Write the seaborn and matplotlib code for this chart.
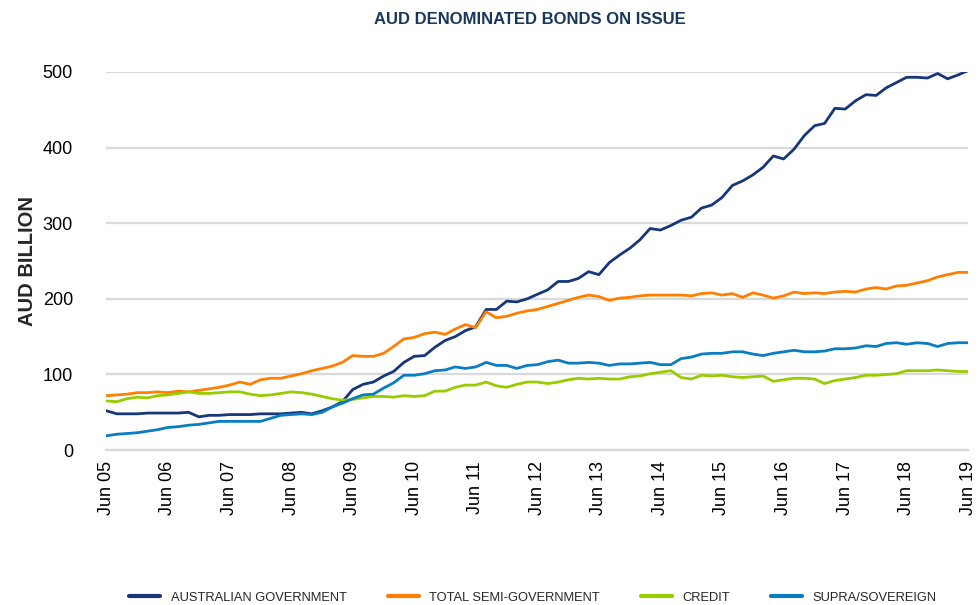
import numpy as np
import pandas as pd
import seaborn as sns
import matplotlib.pyplot as plt
import matplotlib.dates as mdates

# bi-monthly observations, Jun 2005 .. Jun 2019 (AUD billion)
dates = pd.date_range("2005-06-30", periods=85, freq="2ME")

australian_gov = [
    52, 48, 48, 48, 49, 49, 49, 49, 50, 44, 46, 46, 47, 47, 47, 48, 48, 48,
    49, 50, 48, 52, 57, 64, 80, 87, 90, 98, 104, 116, 124, 125, 136, 145, 150, 158,
    163, 186, 186, 197, 196, 200, 206, 212, 223, 223, 227, 236, 232, 248, 258, 267,
    278, 293, 291, 297, 304, 308, 320, 324, 334, 350, 356, 364, 374, 389, 385, 398,
    416, 429, 432, 452, 451, 462, 470, 469, 479, 486, 493, 493, 492, 498, 491, 496,
    502,
]
semi_gov = [
    72, 73, 74, 76, 76, 77, 76, 78, 77, 79, 81, 83, 86, 90, 87, 93, 95, 95,
    98, 101, 105, 108, 111, 116, 125, 124, 124, 128, 137, 147, 149, 154, 156, 153, 160, 166,
    162, 183, 175, 177, 181, 184, 186, 190, 194, 198, 202, 205, 203, 198, 201, 202,
    204, 205, 205, 205, 205, 204, 207, 208, 205, 207, 202, 208, 205, 201, 204, 209,
    207, 208, 207, 209, 210, 209, 213, 215, 213, 217, 218, 221, 224, 229, 232, 235,
    235,
]
credit = [
    65, 64, 68, 70, 69, 72, 73, 75, 77, 75, 75, 76, 77, 77, 74, 72, 73, 75,
    77, 76, 74, 71, 68, 66, 67, 69, 71, 71, 70, 72, 71, 72, 78, 78, 83, 86,
    86, 90, 85, 83, 87, 90, 90, 88, 90, 93, 95, 94, 95, 94, 94, 97,
    98, 101, 103, 105, 96, 94, 99, 98, 99, 97, 96, 97, 98, 91, 93, 95,
    95, 94, 88, 92, 94, 96, 99, 99, 100, 101, 105, 105, 105, 106, 105, 104,
    104,
]
supra = [
    19, 21, 22, 23, 25, 27, 30, 31, 33, 34, 36, 38, 38, 38, 38, 38, 42, 46,
    47, 48, 47, 50, 57, 62, 68, 73, 74, 82, 89, 99, 99, 101, 105, 106, 110, 108,
    110, 116, 112, 112, 108, 112, 113, 117, 119, 115, 115, 116, 115, 112, 114, 114,
    115, 116, 113, 113, 121, 123, 127, 128, 128, 130, 130, 127, 125, 128, 130, 132,
    130, 130, 131, 134, 134, 135, 138, 137, 141, 142, 140, 142, 141, 137, 141, 142,
    142,
]

series_names = ["AUSTRALIAN GOVERNMENT", "TOTAL SEMI-GOVERNMENT", "CREDIT", "SUPRA/SOVEREIGN"]
colors = ["#17377A", "#FF8000", "#99CC00", "#0A7DC2"]

df = pd.concat([
    pd.DataFrame({"date": dates, "value": vals, "series": name})
    for name, vals in zip(series_names, [australian_gov, semi_gov, credit, supra])
])

sns.set_style("white")
plt.rcParams["font.family"] = ["Liberation Sans", "DejaVu Sans"]

fig = plt.figure(figsize=(9.76, 6.05), dpi=100)
ax = fig.add_axes([0.109, 0.256, 0.883, 0.625])

sns.lineplot(data=df, x="date", y="value", hue="series", hue_order=series_names,
             palette=dict(zip(series_names, colors)), linewidth=2.0, ax=ax, legend=False)

ax.set_ylim(0, 500)
ax.set_yticks(range(0, 501, 100))
ax.set_xlim(dates[0], dates[-1])
ax.set_xticks(pd.date_range("2005-06-30", "2019-06-30", freq="12ME"))
ax.xaxis.set_major_formatter(mdates.DateFormatter("%b %y"))
ax.tick_params(axis="x", labelrotation=90, labelsize=13, length=0, pad=8, colors="black")
ax.tick_params(axis="y", labelsize=13, length=0, pad=24, colors="black")

ax.grid(axis="y", color="#D9D9D9", linewidth=1.6)
ax.set_axisbelow(True)
for side in ["left", "right", "top"]:
    ax.spines[side].set_visible(False)
ax.spines["bottom"].set_color("#D9D9D9")
ax.spines["bottom"].set_linewidth(1.6)

ax.set_xlabel("")
ax.set_ylabel("AUD BILLION", fontsize=14.5, fontweight="bold", labelpad=4)

fig.text(0.543, 0.968, "AUD DENOMINATED BONDS ON ISSUE", ha="center", va="center",
         fontsize=12, fontweight="bold", color="#17375E")

handles = [plt.Line2D([], [], color=c, linewidth=3) for c in colors]
fig.legend(handles, series_names, loc="center", bbox_to_anchor=(0.546, 0.012),
           ncol=4, frameon=False, handlelength=2.4, columnspacing=3.2,
           handletextpad=0.8, prop={"size": 9.3})

fig.savefig("out.png", dpi=100)
